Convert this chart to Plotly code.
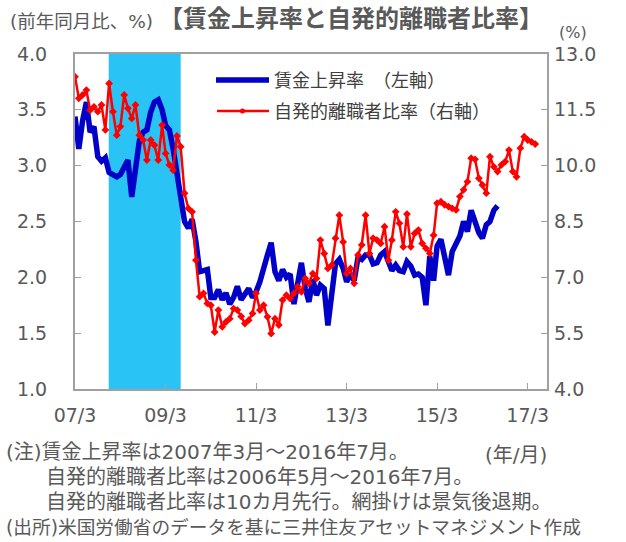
import pandas as pd
import plotly.graph_objects as go

# ---------------- data ----------------
wage_start = "2007-03-01"   # wage growth: 2007/3 - 2016/7
wage_growth = [
    3.44, 3.15, 3.40, 3.57, 3.30, 3.35, 3.08, 3.04, 3.07, 2.94,
    2.92, 2.90, 2.92, 3.00, 3.05, 2.72, 2.95, 3.22, 3.30, 3.32,
    3.48, 3.57, 3.59, 3.50, 3.36, 3.32, 3.15, 2.93, 2.78, 2.50,
    2.44, 2.52, 2.32, 2.05, 2.06, 2.07, 1.82, 1.82, 1.89, 1.80,
    1.86, 1.76, 1.82, 1.92, 1.80, 1.84, 1.90, 1.82, 1.87, 1.96,
    2.10, 2.20, 2.31, 2.05, 1.97, 2.07, 2.00, 2.03, 1.76, 1.95,
    2.13, 1.90, 1.78, 1.98, 1.84, 1.93, 1.90, 1.57, 1.86, 2.12,
    2.16, 2.08, 1.96, 2.03, 1.97, 2.18, 2.16, 2.20, 2.20, 2.12,
    2.13, 2.20, 2.23, 2.12, 2.06, 2.11, 2.06, 2.05, 2.14, 2.10,
    2.02, 2.03, 2.00, 1.75, 2.19, 1.97, 2.28, 2.34, 2.20, 2.02,
    2.23, 2.31, 2.37, 2.50, 2.41, 2.60, 2.50, 2.40, 2.35, 2.47,
    2.50, 2.60, 2.64,
]

quits_start = "2007-03-01"  # quit rate (2006/5 - 2016/7) shifted 10 months ahead
quit_rate = [
    12.39, 11.81, 11.90, 12.03, 11.49, 11.58, 11.45, 11.63, 10.96, 12.21,
    11.45, 10.82, 11.05, 11.90, 11.54, 11.27, 11.63, 10.82, 10.69, 10.15,
    10.69, 10.55, 10.15, 11.09, 10.33, 10.02, 9.88, 10.80, 10.51, 9.26,
    8.85, 8.76, 7.46, 6.48, 6.57, 6.30, 6.25, 5.53, 6.12, 5.67,
    5.80, 5.89, 6.16, 6.12, 5.95, 5.76, 5.85, 6.03, 6.57, 6.12,
    6.25, 5.94, 5.49, 5.89, 5.72, 6.39, 6.52, 6.43, 6.57, 6.75,
    6.61, 6.97, 6.84, 7.10, 6.97, 8.00, 7.64, 7.24, 7.33, 8.05,
    8.67, 7.95, 7.10, 7.24, 6.84, 7.60, 7.87, 8.67, 7.64, 8.05,
    8.00, 7.91, 8.36, 7.46, 8.00, 8.76, 8.45, 7.82, 8.70, 7.82,
    8.18, 8.27, 7.91, 7.78, 7.64, 8.13, 8.99, 9.03, 8.95, 8.90,
    8.85, 8.81, 9.17, 9.35, 9.57, 10.20, 10.17, 9.66, 9.48, 9.26,
    10.24, 9.97, 9.84, 10.02, 10.11, 10.42, 9.84, 9.70, 10.47, 10.78,
    10.69, 10.64, 10.58,
]

recession = ("2007-11-28", "2009-07-01")

x_tick_dates = ["2007-03-01", "2009-03-01", "2011-03-01", "2013-03-01", "2015-03-01", "2017-03-01"]
x_tick_labels = ["07/3", "09/3", "11/3", "13/3", "15/3", "17/3"]
left_ticks = [1.0, 1.5, 2.0, 2.5, 3.0, 3.5, 4.0]
right_ticks = [4.0, 5.5, 7.0, 8.5, 10.0, 11.5, 13.0]

series_names = ["賃金上昇率\u3000（左軸）", "自発的離職者比率（右軸）"]
title_text = "【賃金上昇率と自発的離職者比率】"
left_unit = "(前年同月比、%)"
right_unit = "(%)"
x_unit = "(年/月)"
notes = [
    "(注)賃金上昇率は2007年3月～2016年7月。",
    "\u3000\u3000自発的離職者比率は2006年5月～2016年7月。",
    "\u3000\u3000自発的離職者比率は10カ月先行。網掛けは景気後退期。",
    "(出所)米国労働省のデータを基に三井住友アセットマネジメント作成",
]
note_sizes = [20, 20, 20, 18.7]

# ---------------- styling ----------------
FONT = "DejaVu Sans, Noto Sans CJK JP, sans-serif"
GRAY = "#595959"
AXIS = "#A0A0A0"
BLUE = "#0000C8"
RED = "#FF0000"
SHADE = "#29C4F5"

W, H = 626, 542
L, R, T, B = 75, 547, 54, 389   # plot area in pixels


def px(xp):
    return (xp - L) / (R - L)


def py(yp):
    return (B - yp) / (B - T)


wage_dates = pd.date_range(wage_start, periods=len(wage_growth), freq="MS")
quit_dates = pd.date_range(quits_start, periods=len(quit_rate), freq="MS")

fig = go.Figure()
fig.add_trace(go.Scatter(
    x=wage_dates, y=wage_growth, mode="lines", name=series_names[0],
    line=dict(color=BLUE, width=5.5), yaxis="y", showlegend=False,
))
fig.add_trace(go.Scatter(
    x=quit_dates, y=quit_rate, mode="lines+markers", name=series_names[1],
    line=dict(color=RED, width=2.5), marker=dict(symbol="diamond", size=6, color=RED),
    yaxis="y2", showlegend=False,
))

fig.add_shape(type="rect", xref="x", yref="paper", x0=recession[0], x1=recession[1],
              y0=0, y1=1, fillcolor=SHADE, line_width=0, layer="below")

# manual legend
fig.add_shape(type="line", xref="paper", yref="paper", x0=px(216), x1=px(269),
              y0=py(80), y1=py(80), line=dict(color=BLUE, width=5.5))
fig.add_shape(type="line", xref="paper", yref="paper", x0=px(217), x1=px(269),
              y0=py(111), y1=py(111), line=dict(color=RED, width=2.5))
fig.add_shape(type="circle", xref="paper", yref="paper", x0=px(240), x1=px(245),
              y0=py(108.5), y1=py(113.5), fillcolor=RED, line=dict(color=RED, width=0))

annotations = [
    dict(text=series_names[0], x=px(272), y=py(80), xanchor="left", yanchor="middle",
         font=dict(size=18, color="#404040")),
    dict(text=series_names[1], x=px(272), y=py(111), xanchor="left", yanchor="middle",
         font=dict(size=18, color="#404040")),
    dict(text="<b>" + title_text + "</b>", x=px(351), y=py(19), xanchor="center", yanchor="middle",
         font=dict(size=24, color=GRAY)),
    dict(text=left_unit, x=px(8), y=py(22), xanchor="left", yanchor="middle",
         font=dict(size=18.5, color=GRAY)),
    dict(text=right_unit, x=px(573), y=py(33), xanchor="center", yanchor="middle",
         font=dict(size=16, color=GRAY)),
    dict(text=x_unit, x=px(516), y=py(455), xanchor="center", yanchor="middle",
         font=dict(size=20, color=GRAY)),
]
for i, line in enumerate(notes):
    annotations.append(dict(text=line, x=px(4), y=py(452 + 25 * i), xanchor="left",
                            yanchor="middle", font=dict(size=note_sizes[i], color=GRAY)))
for a in annotations:
    a.update(xref="paper", yref="paper", showarrow=False)

fig.update_layout(
    width=W, height=H,
    margin=dict(l=L, r=W - R, t=T, b=H - B, pad=0),
    paper_bgcolor="white", plot_bgcolor="white",
    font=dict(family=FONT, color=GRAY, size=19),
    annotations=annotations,
    xaxis=dict(
        type="date", range=["2007-03-01", "2017-08-04"],
        tickmode="array", tickvals=x_tick_dates, ticktext=x_tick_labels,
        ticks="inside", ticklen=6, tickcolor=AXIS, tickwidth=1,
        showline=True, linecolor=AXIS, linewidth=2, mirror=True,
        showgrid=False, zeroline=False, tickfont=dict(size=19, color=GRAY),
        ticklabelstandoff=8,
    ),
    yaxis=dict(
        range=[1.0, 4.0], tickmode="array", tickvals=left_ticks,
        ticktext=[f"{v:.1f}" for v in left_ticks],
        ticks="inside", ticklen=6, tickcolor=AXIS,
        showline=True, linecolor=AXIS, linewidth=2, mirror=True,
        showgrid=False, zeroline=False, tickfont=dict(size=19, color=GRAY),
        ticklabelstandoff=22,
    ),
    yaxis2=dict(
        range=[4.0, 13.0], overlaying="y", side="right", tickmode="array",
        tickvals=right_ticks, ticktext=[f"{v:.1f}" for v in right_ticks],
        ticks="inside", ticklen=6, tickcolor=AXIS,
        showline=False, showgrid=False, zeroline=False,
        tickfont=dict(size=19, color=GRAY), ticklabelstandoff=6,
    ),
)

fig.write_html("out.html", config={"displayModeBar": False},
               post_script="document.body.style.margin='0px';")
